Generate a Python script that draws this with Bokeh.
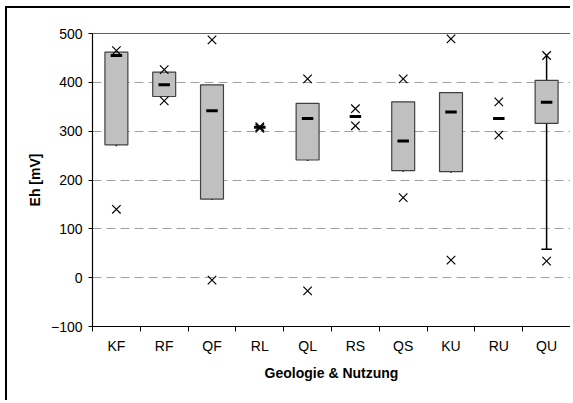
from bokeh.plotting import figure
from bokeh.models import FixedTicker, Range1d
from bokeh.embed import file_html
from bokeh.resources import INLINE

categories = ["KF", "RF", "QF", "RL", "QL", "RS", "QS", "KU", "RU", "QU"]
q3 = [462, 421, 395, 308, 357, 330, 360, 379, 326, 404]
q1 = [272, 371, 161, 308, 241, 330, 219, 217, 326, 316]
median = [455, 395, 342, 308, 326, 330, 280, 339, 326, 359]
maximum = [465, 426, 487, 309, 407, 346, 407, 489, 360, 455]
minimum = [140, 362, -5, 306, -27, 311, 164, 36, 292, 34]
whisker_low = [269, 371, 159, 308, 239, 330, 217, 215, 326, 58]
whisker_high = [462, 421, 395, 308, 357, 330, 360, 379, 326, 455]
y_ticks = [-100, 0, 100, 200, 300, 400, 500]

FONT = "Liberation Sans"

xc = [i + 0.5 for i in range(len(categories))]
has_box = [a != b for a, b in zip(q1, q3)]

p = figure(width=565, height=394, output_backend="svg", toolbar_location=None,
           x_range=Range1d(0, len(categories)), y_range=Range1d(-100, 500),
           min_border_left=85, min_border_right=2, min_border_top=25, min_border_bottom=76)
p.styles = {"margin-left": "5px", "margin-top": "6px",
            "border-left": "2px solid black", "border-top": "2px solid black"}

p.background_fill_color = "white"
p.border_fill_color = "white"
p.outline_line_color = "#606060"
p.outline_line_width = 1

# grid
p.xgrid.grid_line_color = None
p.ygrid.ticker = FixedTicker(ticks=[0, 100, 200, 300, 400])
p.ygrid.grid_line_color = "#a0a0a0"
p.ygrid.grid_line_dash = "9 5"
p.ygrid.grid_line_width = 1

# x axis
p.xaxis.ticker = FixedTicker(ticks=xc, minor_ticks=list(range(len(categories) + 1)))
p.xaxis.major_label_overrides = {x: c for x, c in zip(xc, categories)}
p.xaxis.major_tick_out = 0
p.xaxis.major_tick_in = 0
p.xaxis.minor_tick_out = 5
p.xaxis.minor_tick_in = 0
p.xaxis.minor_tick_line_color = "black"
p.xaxis.major_label_standoff = 6
p.xaxis.axis_label = "Geologie & Nutzung"
p.xaxis.axis_label_standoff = 8

# y axis
p.yaxis.ticker = FixedTicker(ticks=y_ticks)
p.yaxis.minor_tick_line_color = None
p.yaxis.major_tick_out = 4
p.yaxis.major_tick_in = 0
p.yaxis.major_label_standoff = 6
p.yaxis.axis_label = "Eh [mV]"
p.yaxis.axis_label_standoff = 5

for ax in (p.xaxis, p.yaxis):
    ax.axis_line_color = "black"
    ax.axis_line_width = 1.2
    ax.major_tick_line_color = "black"
    ax.major_label_text_font = FONT
    ax.major_label_text_font_size = "14px"
    ax.major_label_text_color = "black"
    ax.axis_label_text_font = FONT
    ax.axis_label_text_font_size = "14px"
    ax.axis_label_text_font_style = "bold"
    ax.axis_label_text_color = "black"

# whiskers
p.segment(x0=xc, x1=xc, y0=whisker_low, y1=q1, line_color="black", line_width=1.5)
p.segment(x0=xc, x1=xc, y0=q3, y1=whisker_high, line_color="black", line_width=1.5)
cap_x = [x for x, lo, b in zip(xc, whisker_low, q1) if b - lo > 10]
cap_y = [lo for lo, b in zip(whisker_low, q1) if b - lo > 10]
p.segment(x0=[x - 0.11 for x in cap_x], x1=[x + 0.11 for x in cap_x], y0=cap_y, y1=cap_y,
          line_color="black", line_width=1.5)

# boxes
bx = [x for x, h in zip(xc, has_box) if h]
btop = [t for t, h in zip(q3, has_box) if h]
bbot = [b for b, h in zip(q1, has_box) if h]
p.vbar(x=bx, width=0.48, top=btop, bottom=bbot, fill_color="#c0c0c0",
       line_color="#404040", line_width=1.2)

# medians
p.segment(x0=[x - 0.12 for x in xc], x1=[x + 0.12 for x in xc], y0=median, y1=median,
          line_color="black", line_width=3)

# min / max markers
p.scatter(x=xc, y=maximum, marker="x", size=12, line_color="black", line_width=1.2)
p.scatter(x=xc, y=minimum, marker="x", size=12, line_color="black", line_width=1.2)

open("out.html", "w").write(file_html(p, INLINE))
